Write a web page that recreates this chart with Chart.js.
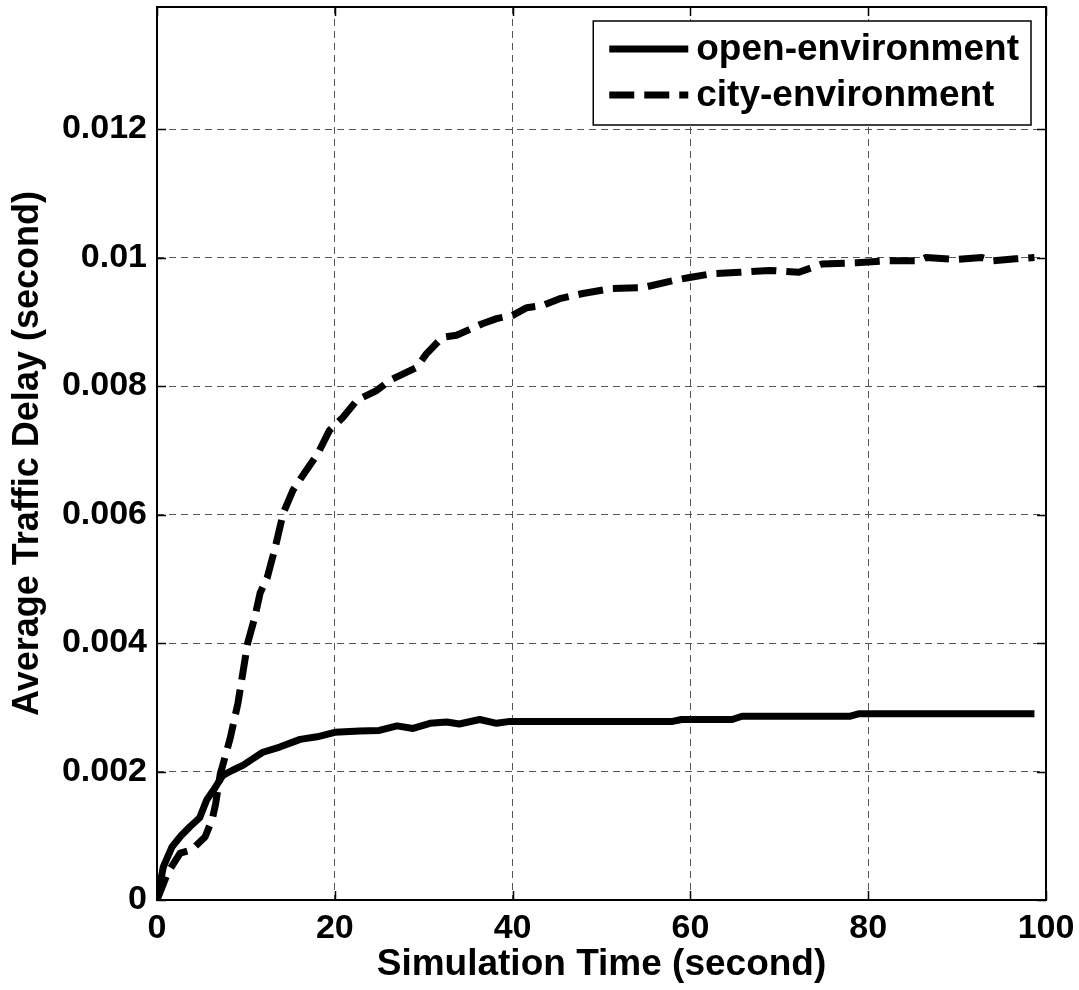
<!DOCTYPE html>
<html>
<head>
<meta charset="utf-8">
<script src="https://cdn.jsdelivr.net/npm/chart.js@4.4.1/dist/chart.umd.min.js"></script>
<style>
  body { margin: 0; background: #fff; }
  #wrap { width: 1079px; height: 990px; }
</style>
</head>
<body>
<div id="wrap"><canvas id="delayChart" width="1079" height="990"></canvas></div>
<script>
// values
var openTime  = [0, 0.7, 1.7, 2.7, 3.7, 4.8, 5.6, 6.5, 7.4, 8.5, 9.7, 10.8, 11.9, 13.8, 16.1, 18, 20, 22.8, 25, 27, 28.8, 30.7, 32.6, 34, 36.3, 38.2, 39.7, 58, 59, 64.7, 65.8, 77.9, 79, 98.7];
var openDelay = [0, 0.00051, 0.00083, 0.001, 0.00114, 0.00128, 0.00156, 0.00174, 0.00194, 0.00202, 0.0021, 0.0022, 0.0023, 0.00238, 0.0025, 0.00254, 0.00261, 0.00263, 0.00264, 0.00271, 0.00267, 0.00275, 0.00277, 0.00274, 0.00281, 0.00275, 0.00278, 0.00278, 0.00281, 0.00281, 0.00286, 0.00286, 0.0029, 0.0029];

var cityTime  = [0, 1.2, 2.6, 3.9, 5.4, 6.2, 6.6, 7.1, 8.2, 9.1, 10.2, 11, 11.6, 12.4, 13.3, 14.2, 15.3, 16.8, 18.1, 19.4, 20.9, 22.5, 24.7, 26.2, 29.2, 30.3, 32.1, 33.7, 36.6, 38.2, 40, 41.6, 43.3, 45.3, 47.9, 51.2, 54.6, 58, 59.9, 62.5, 65.5, 68.9, 72.2, 74.8, 78.7, 82.4, 85.7, 86.5, 89.9, 92.8, 93.9, 96.6, 98.7];
var cityDelay = [0, 0.00042, 0.00073, 0.00078, 0.00098, 0.00125, 0.0015, 0.00195, 0.0025, 0.00306, 0.004, 0.0044, 0.00478, 0.00502, 0.00549, 0.00602, 0.00638, 0.00669, 0.00695, 0.00731, 0.00751, 0.00778, 0.00793, 0.00809, 0.00829, 0.0085, 0.00876, 0.00879, 0.00897, 0.00905, 0.0091, 0.00922, 0.00925, 0.00936, 0.00944, 0.00952, 0.00953, 0.00964, 0.00969, 0.00975, 0.00977, 0.0098, 0.00977, 0.0099, 0.00992, 0.00995, 0.00995, 0.01, 0.00997, 0.01, 0.00995, 0.00998, 0.01];

var seriesNames = ['open-environment', 'city-environment'];
var xTicks = [0, 20, 40, 60, 80, 100];
var yTicks = [0, 0.002, 0.004, 0.006, 0.008, 0.01, 0.012];

var FONT = '"Liberation Sans", Arial, sans-serif';

function toPoints(xs, ys){
  var pts = [];
  for (var i = 0; i < xs.length; i++) pts.push({x: xs[i], y: ys[i]});
  return pts;
}

function noOverflow(s){
  s.paddingTop = 0; s.paddingBottom = 0;
  s.paddingLeft = 0; s.paddingRight = 0;
}

// frame, inward tick marks and legend box (matlab look)
var matlabBox = {
  id: 'matlabBox',
  afterDatasetsDraw: function(chart){
    var ctx = chart.ctx, a = chart.chartArea;
    var xs = chart.scales.x, ys = chart.scales.y;
    ctx.save();
    ctx.strokeStyle = '#000';
    ctx.lineWidth = 1.5;
    ctx.setLineDash([]);
    ctx.beginPath();
    xTicks.forEach(function(v){
      var px = Math.round(xs.getPixelForValue(v)) + 0.5;
      ctx.moveTo(px, a.bottom); ctx.lineTo(px, a.bottom - 9);
      ctx.moveTo(px, a.top); ctx.lineTo(px, a.top + 9);
    });
    yTicks.forEach(function(v){
      var py = Math.round(ys.getPixelForValue(v)) + 0.5;
      ctx.moveTo(a.left, py); ctx.lineTo(a.left + 9, py);
      ctx.moveTo(a.right, py); ctx.lineTo(a.right - 9, py);
    });
    ctx.stroke();
    ctx.lineWidth = 2;
    ctx.strokeRect(a.left, a.top, a.right - a.left, a.bottom - a.top);

    // legend
    ctx.font = 'bold 37px ' + FONT;
    var maxW = 0;
    chart.data.datasets.forEach(function(ds){
      maxW = Math.max(maxW, ctx.measureText(ds.label).width);
    });
    var lineLen = 79, padL = 16, gap = 8, padR = 12, rowH = 46;
    var boxW = padL + lineLen + gap + maxW + padR;
    var boxH = 104;
    var bx = a.right - 15 - boxW, by = a.top + 14;
    ctx.fillStyle = '#fff';
    ctx.fillRect(bx, by, boxW, boxH);
    ctx.lineWidth = 1.5;
    ctx.strokeRect(bx, by, boxW, boxH);
    chart.data.datasets.forEach(function(ds, i){
      var cy = by + 28 + i * rowH;
      ctx.beginPath();
      ctx.strokeStyle = ds.borderColor;
      ctx.lineWidth = ds.borderWidth;
      ctx.lineCap = 'butt';
      ctx.setLineDash(ds.borderDash || []);
      ctx.moveTo(bx + padL, cy);
      ctx.lineTo(bx + padL + lineLen, cy);
      ctx.stroke();
      ctx.setLineDash([]);
      ctx.fillStyle = '#000';
      ctx.textBaseline = 'middle';
      ctx.textAlign = 'left';
      ctx.fillText(ds.label, bx + padL + lineLen + gap, cy + 1);
    });
    ctx.restore();
  }
};

var chartCanvas = document.getElementById('delayChart').getContext('2d');
var delayChart = new Chart(chartCanvas, {
  type: 'line',
  data: {
    datasets: [{
      label: seriesNames[0],
      data: toPoints(openTime, openDelay),
      borderColor: '#000',
      borderWidth: 7,
      pointRadius: 0,
      tension: 0,
      borderJoinStyle: 'round'
    }, {
      label: seriesNames[1],
      data: toPoints(cityTime, cityDelay),
      borderColor: '#000',
      borderWidth: 7,
      borderDash: [25, 10],
      pointRadius: 0,
      tension: 0,
      borderJoinStyle: 'round'
    }]
  },
  options: {
    responsive: false,
    animation: false,
    layout: { padding: { left: 0, top: 7, right: 33, bottom: 0 } },
    plugins: {
      legend: { display: false },
      tooltip: { enabled: false }
    },
    scales: {
      x: {
        type: 'linear',
        min: 0,
        max: 100,
        afterBuildTicks: function(s){ s.ticks = xTicks.map(function(v){ return {value: v}; }); },
        afterFit: function(s){ s.height = 90; noOverflow(s); },
        grid: { color: '#555', lineWidth: 1, drawTicks: false },
        border: { display: false, dash: [7, 5] },
        ticks: {
          color: '#000',
          padding: 8,
          maxRotation: 0,
          font: { family: FONT, size: 34, weight: 'bold' },
          callback: function(v){ return String(v); }
        },
        title: {
          display: true,
          text: 'Simulation Time (second)',
          color: '#000',
          font: { family: FONT, size: 37, weight: 'bold', lineHeight: 1 },
          padding: { top: 0, bottom: 7 }
        }
      },
      y: {
        type: 'linear',
        min: 0,
        max: 0.0139,
        afterBuildTicks: function(s){ s.ticks = yTicks.map(function(v){ return {value: v}; }); },
        afterFit: function(s){ s.width = 157; noOverflow(s); },
        grid: { color: '#555', lineWidth: 1, drawTicks: false },
        border: { display: false, dash: [7, 5] },
        ticks: {
          color: '#000',
          padding: 10,
          font: { family: FONT, size: 34, weight: 'bold' },
          callback: function(v){ return String(v); }
        },
        title: {
          display: true,
          text: 'Average Traffic Delay (second)',
          color: '#000',
          font: { family: FONT, size: 36, weight: 'bold', lineHeight: 1 },
          padding: { top: 10, bottom: 0 }
        }
      }
    }
  },
  plugins: [matlabBox]
});
</script>
</body>
</html>
